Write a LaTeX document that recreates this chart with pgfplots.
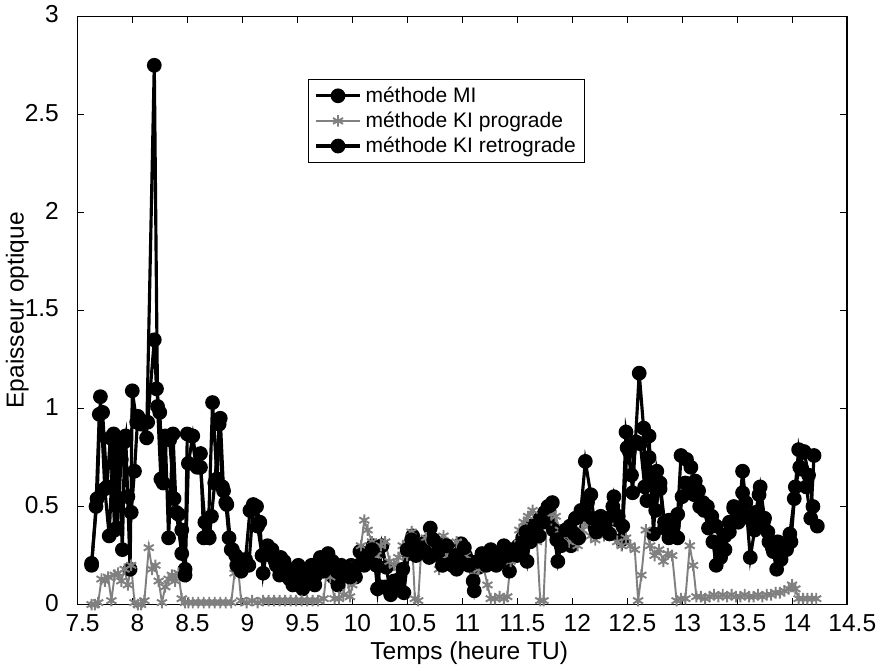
\documentclass[border=0pt]{standalone}
\usepackage{pgfplots}
\pgfplotsset{compat=1.18}
\usepackage{fontspec}
\setmainfont{Liberation Sans}

\begin{document}
\begin{tikzpicture}
\begin{axis}[
  width=15.44cm, height=11.8cm, scale only axis,
  xmin=7.5, xmax=14.5, ymin=0, ymax=3,
  xtick={7.5,8,8.5,9,9.5,10,10.5,11,11.5,12,12.5,13,13.5,14,14.5},
  ytick={0,0.5,1,1.5,2,2.5,3},
  tick align=inside,
  major tick length=1.4mm,
  axis line style={line width=0.8pt},
  tick style={line width=0.6pt, black},
  /pgf/number format/assume math mode=true,
  ticklabel style={font=\fontsize{14}{16}\selectfont},
  xticklabel style={yshift=-2pt, xshift=3pt},
  yticklabel style={yshift=1pt, xshift=-7pt},
  xlabel={Temps (heure TU)},
  ylabel={Epaisseur optique},
  label style={font=\fontsize{14}{16}\selectfont},
  xlabel style={yshift=1pt, xshift=4pt},
  ylabel style={at={(axis description cs:-0.078,0.5)}, anchor=center},
  legend style={at={(0.3,0.893)}, anchor=north west, draw=black, line width=0.6pt,
    font=\fontsize{12}{13}\selectfont, row sep=0pt, inner xsep=3pt, inner ysep=2pt},
  legend cell align=left,
  legend image code/.code={
    \draw[mark repeat=2,mark phase=2] plot coordinates {(0cm,0cm) (0.45cm,0cm) (0.9cm,0cm)};},
]
% methode MI
\addplot[black, line width=1.8pt, mark=*, mark size=3.3pt] coordinates {
(7.63,0.21) (7.68,0.54) (7.71,1.06) (7.75,0.59) (7.79,0.35) (7.83,0.87) (7.86,0.39) (7.9,0.74)
(7.94,0.86) (7.98,0.18) (8.0,1.09) (8.04,0.93) (8.08,0.92) (8.13,0.85) (8.2,2.75) (8.23,1.01)
(8.26,0.64) (8.3,0.86) (8.33,0.34) (8.37,0.87) (8.4,0.47) (8.45,0.26) (8.48,0.18) (8.5,0.87)
(8.54,0.86) (8.58,0.71) (8.62,0.77) (8.65,0.34) (8.69,0.35) (8.73,1.03) (8.77,0.64) (8.8,0.95)
(8.83,0.58) (8.86,0.51) (8.9,0.28) (8.94,0.25) (8.98,0.23) (9.02,0.2) (9.06,0.2) (9.1,0.51)
(9.13,0.5) (9.16,0.42) (9.19,0.16) (9.23,0.3) (9.27,0.28) (9.31,0.2) (9.35,0.24) (9.39,0.18)
(9.43,0.13) (9.47,0.18) (9.51,0.2) (9.55,0.08) (9.59,0.14) (9.63,0.2) (9.67,0.15) (9.71,0.24)
(9.75,0.19) (9.79,0.17) (9.83,0.14) (9.87,0.1) (9.91,0.19) (9.95,0.16) (9.99,0.2) (10.03,0.14)
(10.07,0.27) (10.11,0.2) (10.15,0.24) (10.19,0.3) (10.23,0.08) (10.27,0.3) (10.31,0.19) (10.35,0.05)
(10.39,0.1) (10.43,0.13) (10.47,0.06) (10.51,0.26) (10.55,0.35) (10.59,0.3) (10.63,0.28) (10.67,0.32)
(10.71,0.39) (10.75,0.28) (10.79,0.25) (10.83,0.31) (10.87,0.24) (10.91,0.2) (10.95,0.18) (10.99,0.31)
(11.03,0.25) (11.07,0.22) (11.11,0.07) (11.15,0.19) (11.19,0.22) (11.23,0.25) (11.27,0.26) (11.31,0.2)
(11.35,0.24) (11.39,0.28) (11.43,0.17) (11.47,0.27) (11.51,0.3) (11.55,0.34) (11.59,0.22) (11.63,0.4)
(11.67,0.37) (11.71,0.44) (11.75,0.47) (11.79,0.48) (11.83,0.38) (11.87,0.22) (11.91,0.34) (11.95,0.36)
(11.99,0.3) (12.03,0.44) (12.08,0.48) (12.12,0.73) (12.17,0.56) (12.21,0.39) (12.25,0.42) (12.29,0.38)
(12.33,0.44) (12.37,0.5) (12.41,0.43) (12.45,0.33) (12.49,0.88) (12.52,0.78) (12.55,0.57) (12.61,1.18)
(12.65,0.9) (12.68,0.53) (12.7,0.86) (12.74,0.36) (12.77,0.68) (12.8,0.59) (12.84,0.39) (12.88,0.34)
(12.92,0.36) (12.96,0.46) (12.99,0.76) (13.04,0.74) (13.08,0.7) (13.12,0.63) (13.16,0.5) (13.2,0.48)
(13.24,0.39) (13.28,0.32) (13.31,0.2) (13.35,0.24) (13.39,0.35) (13.43,0.37) (13.47,0.49) (13.51,0.42)
(13.55,0.68) (13.58,0.52) (13.62,0.24) (13.66,0.38) (13.7,0.56) (13.74,0.42) (13.78,0.37) (13.82,0.29)
(13.86,0.18) (13.9,0.23) (13.94,0.3) (13.98,0.36) (14.02,0.54) (14.06,0.79) (14.09,0.69) (14.13,0.6)
(14.17,0.44) (14.2,0.76)
};
\addlegendentry{méthode MI}
% methode KI prograde
\addplot[black!50, line width=1.1pt, mark=asterisk, mark size=3.3pt, mark options={line width=1.1pt}] coordinates {
(7.63,0.0) (7.66,0.0) (7.69,0.01) (7.72,0.13) (7.75,0.12) (7.78,0.14) (7.81,0.02) (7.84,0.15)
(7.87,0.16) (7.9,0.12) (7.93,0.18) (7.96,0.1) (7.99,0.2) (8.02,0.01) (8.05,0.0) (8.08,0.0)
(8.11,0.02) (8.15,0.29) (8.18,0.18) (8.21,0.2) (8.24,0.12) (8.27,0.01) (8.3,0.09) (8.33,0.13)
(8.36,0.15) (8.39,0.12) (8.42,0.16) (8.45,0.03) (8.48,0.01) (8.51,0.01) (8.55,0.01) (8.6,0.01)
(8.65,0.01) (8.7,0.01) (8.75,0.01) (8.8,0.01) (8.85,0.01) (8.9,0.01) (8.93,0.16) (8.96,0.2)
(8.99,0.02) (9.04,0.01) (9.09,0.02) (9.14,0.01) (9.19,0.02) (9.24,0.02) (9.29,0.02) (9.34,0.02)
(9.39,0.02) (9.44,0.02) (9.49,0.02) (9.54,0.02) (9.59,0.02) (9.64,0.02) (9.69,0.02) (9.74,0.03)
(9.77,0.18) (9.8,0.14) (9.84,0.03) (9.88,0.03) (9.92,0.05) (9.95,0.15) (9.98,0.04) (10.0,0.1)
(10.04,0.2) (10.08,0.3) (10.11,0.43) (10.14,0.38) (10.18,0.32) (10.22,0.25) (10.26,0.3) (10.3,0.32)
(10.34,0.22) (10.38,0.2) (10.42,0.24) (10.46,0.3) (10.5,0.25) (10.54,0.37) (10.57,0.03) (10.6,0.02)
(10.63,0.3) (10.67,0.34) (10.71,0.3) (10.75,0.25) (10.79,0.18) (10.83,0.35) (10.87,0.25) (10.91,0.22)
(10.95,0.32) (10.99,0.3) (11.03,0.25) (11.07,0.2) (11.11,0.15) (11.15,0.18) (11.19,0.2) (11.23,0.1)
(11.26,0.03) (11.3,0.03) (11.34,0.04) (11.38,0.03) (11.41,0.04) (11.44,0.22) (11.48,0.3) (11.52,0.38)
(11.56,0.42) (11.6,0.45) (11.64,0.48) (11.68,0.32) (11.71,0.02) (11.74,0.02) (11.77,0.42) (11.81,0.46)
(11.85,0.45) (11.89,0.38) (11.93,0.35) (11.97,0.32) (12.01,0.35) (12.05,0.3) (12.09,0.38) (12.13,0.42)
(12.17,0.35) (12.21,0.33) (12.25,0.38) (12.29,0.35) (12.33,0.4) (12.37,0.36) (12.41,0.32) (12.45,0.3)
(12.49,0.34) (12.53,0.3) (12.57,0.28) (12.6,0.02) (12.63,0.15) (12.67,0.38) (12.71,0.3) (12.75,0.25)
(12.79,0.28) (12.83,0.22) (12.87,0.26) (12.91,0.25) (12.95,0.02) (12.99,0.03) (13.03,0.03) (13.07,0.3)
(13.1,0.2) (13.13,0.04) (13.17,0.04) (13.21,0.03) (13.25,0.04) (13.29,0.05) (13.33,0.04) (13.37,0.05)
(13.41,0.04) (13.45,0.05) (13.49,0.04) (13.53,0.04) (13.57,0.05) (13.61,0.04) (13.65,0.04) (13.69,0.05)
(13.73,0.04) (13.77,0.05) (13.81,0.05) (13.85,0.06) (13.89,0.06) (13.93,0.07) (13.97,0.08) (14.0,0.1)
(14.03,0.08) (14.06,0.03) (14.1,0.03) (14.14,0.03) (14.18,0.03) (14.22,0.03)
};
\addlegendentry{méthode KI prograde}
% methode KI retrograde
\addplot[black, line width=1.8pt, mark=*, mark size=3.3pt] coordinates {
(7.63,0.2) (7.67,0.5) (7.7,0.97) (7.73,0.98) (7.77,0.6) (7.8,0.85) (7.84,0.38) (7.87,0.81)
(7.91,0.28) (7.93,0.83) (7.96,0.55) (7.99,0.47) (8.02,0.68) (8.05,0.96) (8.09,0.93) (8.14,0.93)
(8.2,1.35) (8.22,1.1) (8.25,0.98) (8.28,0.62) (8.31,0.85) (8.34,0.84) (8.38,0.54) (8.42,0.46)
(8.45,0.38) (8.48,0.15) (8.51,0.72) (8.55,0.86) (8.59,0.7) (8.62,0.7) (8.66,0.42) (8.7,0.34)
(8.72,0.45) (8.75,0.62) (8.79,0.92) (8.82,0.6) (8.85,0.52) (8.88,0.34) (8.91,0.28) (8.95,0.2)
(8.99,0.17) (9.03,0.23) (9.07,0.48) (9.11,0.5) (9.14,0.4) (9.18,0.25) (9.22,0.27) (9.26,0.25)
(9.3,0.22) (9.34,0.15) (9.38,0.22) (9.42,0.15) (9.46,0.1) (9.5,0.12) (9.54,0.16) (9.58,0.17)
(9.62,0.12) (9.66,0.1) (9.7,0.2) (9.74,0.17) (9.78,0.26) (9.82,0.22) (9.86,0.17) (9.9,0.2)
(9.94,0.15) (9.98,0.14) (10.02,0.18) (10.06,0.2) (10.1,0.22) (10.14,0.25) (10.18,0.28) (10.22,0.2)
(10.26,0.09) (10.3,0.09) (10.34,0.07) (10.38,0.12) (10.42,0.1) (10.46,0.18) (10.5,0.28) (10.54,0.33)
(10.58,0.25) (10.62,0.29) (10.66,0.27) (10.7,0.24) (10.74,0.33) (10.78,0.27) (10.82,0.2) (10.86,0.3)
(10.9,0.21) (10.94,0.25) (10.98,0.22) (11.02,0.29) (11.06,0.2) (11.1,0.12) (11.14,0.22) (11.18,0.26)
(11.22,0.2) (11.26,0.28) (11.3,0.26) (11.34,0.22) (11.38,0.3) (11.42,0.25) (11.46,0.28) (11.5,0.25)
(11.54,0.3) (11.58,0.37) (11.62,0.32) (11.66,0.4) (11.7,0.35) (11.74,0.42) (11.78,0.5) (11.82,0.52)
(11.86,0.33) (11.9,0.3) (11.94,0.38) (11.98,0.4) (12.02,0.36) (12.06,0.34) (12.1,0.46) (12.14,0.52)
(12.18,0.44) (12.22,0.37) (12.26,0.45) (12.3,0.4) (12.34,0.36) (12.38,0.55) (12.42,0.45) (12.46,0.4)
(12.5,0.8) (12.54,0.66) (12.58,0.83) (12.62,0.82) (12.66,0.6) (12.7,0.75) (12.73,0.62) (12.76,0.48)
(12.8,0.62) (12.84,0.42) (12.88,0.43) (12.92,0.4) (12.96,0.34) (13.0,0.55) (13.03,0.62) (13.07,0.6)
(13.11,0.56) (13.15,0.58) (13.19,0.52) (13.23,0.5) (13.27,0.45) (13.31,0.4) (13.35,0.3) (13.39,0.28)
(13.43,0.42) (13.47,0.5) (13.51,0.47) (13.55,0.57) (13.59,0.45) (13.63,0.43) (13.67,0.47) (13.71,0.6)
(13.75,0.44) (13.79,0.32) (13.83,0.27) (13.87,0.32) (13.91,0.3) (13.95,0.28) (13.99,0.32) (14.03,0.6)
(14.07,0.7) (14.11,0.78) (14.15,0.66) (14.19,0.5) (14.23,0.4)
};
\addlegendentry{méthode KI retrograde}
\end{axis}
\end{tikzpicture}
\end{document}
